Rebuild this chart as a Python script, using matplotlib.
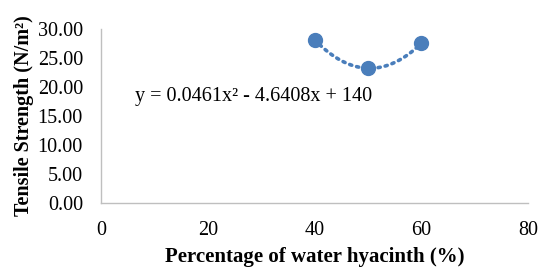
import numpy as np
import matplotlib
matplotlib.use("Agg")
import matplotlib.pyplot as plt

plt.rcParams['font.family'] = ['Liberation Serif', 'DejaVu Serif']

x_vals = [40, 50, 60]
y_vals = [28.13, 23.21, 27.51]
x_ticks = [0, 20, 40, 60, 80]
y_ticks = [0, 5, 10, 15, 20, 25, 30]
equation = "y = 0.0461x² - 4.6408x + 140"

fig = plt.figure(figsize=(5.39, 2.67), dpi=100)
ax = fig.add_axes([0.1874, 0.24, 0.7925, 0.652])
color = '#4A7EBB'

coef = np.polyfit(x_vals, y_vals, 2)
xs = np.linspace(min(x_vals), max(x_vals), 100)
ax.plot(xs, np.polyval(coef, xs), linestyle=(0, (0.6, 1.4)), color=color, lw=2.6,
        dash_capstyle='round')
ax.plot(x_vals, y_vals, 'o', color=color, markersize=10)

ax.set_xlim(0, 80)
ax.set_ylim(0, 30)
ax.set_xticks(x_ticks)
ax.set_yticks(y_ticks)
ax.set_yticklabels([f"{v:.2f}" for v in y_ticks])
ax.tick_params(length=0, labelsize=14.5)
ax.tick_params(axis='x', pad=13)
ax.tick_params(axis='y', pad=13)
for s in ['top', 'right']:
    ax.spines[s].set_visible(False)
for s in ['left', 'bottom']:
    ax.spines[s].set_color('#BFBFBF')
    ax.spines[s].set_linewidth(1)

ax.text(6.4, 18.3, equation, fontsize=14.5, va='center', ha='left')
ax.set_xlabel("Percentage of water hyacinth (%)", fontsize=15, fontweight='bold', labelpad=5)
ax.set_ylabel("Tensile Strength (N/m²)", fontsize=14.5, fontweight='bold', labelpad=3)

fig.savefig("out.png", dpi=100)
